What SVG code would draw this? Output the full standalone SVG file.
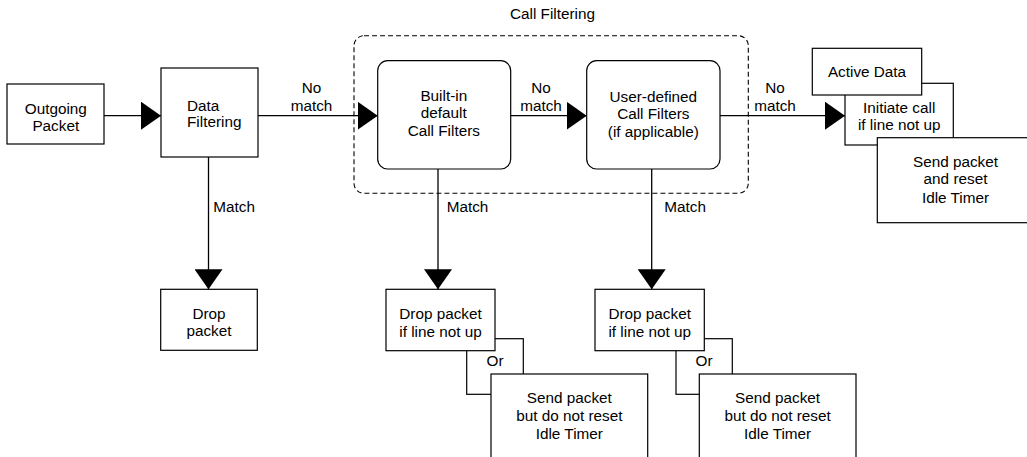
<svg xmlns="http://www.w3.org/2000/svg" width="1027" height="457" viewBox="0 0 1027 457">
<defs>
<marker id="ah" markerUnits="userSpaceOnUse" viewBox="0 0 20 28" markerWidth="20" markerHeight="28" refX="20" refY="14" orient="auto">
<path d="M0,0 L20,14 L0,28 z" fill="#000"/>
</marker>
<style>
.box{fill:#fff;stroke:#000;stroke-width:1.2}
.t{font-family:"Liberation Sans",Arial,sans-serif;font-size:15.3px;fill:#000}
.c{text-anchor:middle}
.ln{stroke:#000;stroke-width:1.3;fill:none}
.dash{fill:none;stroke:#000;stroke-width:1.1;stroke-dasharray:5,3}
</style>
</defs>
<rect width="1027" height="457" fill="#fff"/>

<g id="call-filtering">
<rect class="dash" x="354" y="35.7" width="394.3" height="157.6" rx="10"/>
<text class="t c" x="552.5" y="19">Call Filtering</text>
</g>

<g id="connectors">
<line class="ln" x1="104" y1="115.7" x2="161" y2="115.7" marker-end="url(#ah)"/>
<line class="ln" x1="258" y1="115.7" x2="377.7" y2="115.7" marker-end="url(#ah)"/>
<line class="ln" x1="510.7" y1="115.7" x2="586.7" y2="115.7" marker-end="url(#ah)"/>
<line class="ln" x1="720" y1="115.7" x2="845" y2="115.7" marker-end="url(#ah)"/>
<line class="ln" x1="208.5" y1="157" x2="208.5" y2="289.3" marker-end="url(#ah)"/>
<line class="ln" x1="438" y1="169" x2="438" y2="289.3" marker-end="url(#ah)"/>
<line class="ln" x1="651.7" y1="169" x2="651.7" y2="289.3" marker-end="url(#ah)"/>
<text class="t c" x="311.5" y="92.5">No</text>
<text class="t c" x="311.5" y="110.7">match</text>
<text class="t c" x="541" y="92.5">No</text>
<text class="t c" x="541" y="110.5">match</text>
<text class="t c" x="775" y="92.5">No</text>
<text class="t c" x="775" y="110.7">match</text>
<text class="t" x="213.3" y="212.3">Match</text>
<text class="t" x="446.7" y="212.3">Match</text>
<text class="t" x="664.3" y="212.3">Match</text>
</g>

<g id="outgoing-packet">
<rect class="box" x="7" y="84" width="97" height="60"/>
<text class="t c" x="55.8" y="113.5">Outgoing</text>
<text class="t c" x="55.8" y="130.5">Packet</text>
</g>

<g id="data-filtering">
<rect class="box" x="161" y="68" width="97" height="89"/>
<text class="t" x="187" y="110.7">Data</text>
<text class="t" x="187" y="127.3">Filtering</text>
</g>

<g id="built-in-filters">
<rect class="box" x="377.7" y="60.7" width="133" height="108.3" rx="10"/>
<text class="t c" x="443.8" y="100.5">Built-in</text>
<text class="t c" x="443.8" y="118">default</text>
<text class="t c" x="443.8" y="135.5">Call Filters</text>
</g>

<g id="user-defined-filters">
<rect class="box" x="586.7" y="60.7" width="133.3" height="108.3" rx="10"/>
<text class="t c" x="653.3" y="101.5">User-defined</text>
<text class="t c" x="653.3" y="119">Call Filters</text>
<text class="t c" x="653.3" y="136.5">(if applicable)</text>
</g>

<g id="drop-packet">
<rect class="box" x="160.7" y="289.3" width="96.6" height="61"/>
<text class="t c" x="209" y="318.5">Drop</text>
<text class="t c" x="209" y="336">packet</text>
</g>

<g id="builtin-match-result">
<rect class="box" x="466.7" y="338.7" width="56.6" height="55.6"/>
<text class="t c" x="495" y="365.7">Or</text>
<rect class="box" x="386" y="289.3" width="109" height="61.4"/>
<text class="t c" x="440.5" y="319.3">Drop packet</text>
<text class="t c" x="440.5" y="336.5">if line not up</text>
<rect class="box" x="491" y="374" width="156.7" height="90"/>
<text class="t c" x="569.3" y="403.3">Send packet</text>
<text class="t c" x="569.3" y="421">but do not reset</text>
<text class="t c" x="569.3" y="439.3">Idle Timer</text>
</g>

<g id="userdef-match-result">
<rect class="box" x="676" y="338.7" width="56.3" height="55.6"/>
<text class="t c" x="704" y="365.7">Or</text>
<rect class="box" x="595" y="289.3" width="109.3" height="61.4"/>
<text class="t c" x="649.7" y="319.3">Drop packet</text>
<text class="t c" x="649.7" y="336.5">if line not up</text>
<rect class="box" x="699.3" y="374" width="156.7" height="90"/>
<text class="t c" x="777.6" y="403.3">Send packet</text>
<text class="t c" x="777.6" y="421">but do not reset</text>
<text class="t c" x="777.6" y="439.3">Idle Timer</text>
</g>

<g id="active-data">
<rect class="box" x="845" y="83.3" width="108.3" height="61.7"/>
<text class="t c" x="899.2" y="113.3">Initiate call</text>
<text class="t c" x="899.2" y="130">if line not up</text>
<rect class="box" x="812.3" y="48.3" width="109.4" height="46.7"/>
<text class="t c" x="867" y="76.5">Active Data</text>
<rect class="box" x="877.3" y="137.7" width="160" height="85"/>
<text class="t c" x="955.5" y="166.7">Send packet</text>
<text class="t c" x="955.5" y="184.3">and reset</text>
<text class="t c" x="955.5" y="202.5">Idle Timer</text>
</g>
</svg>
